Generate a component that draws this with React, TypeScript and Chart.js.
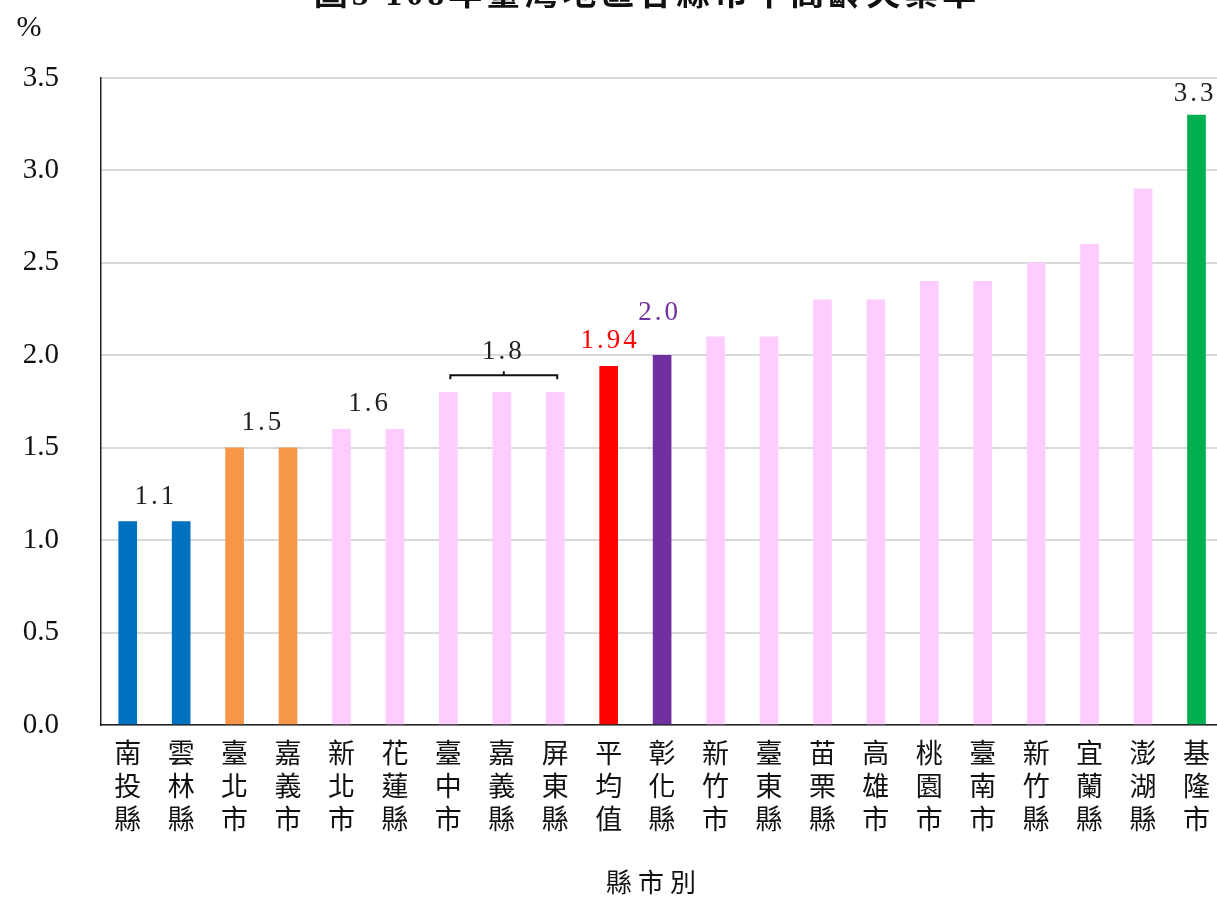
import { useEffect, useRef } from 'react';
import { Chart, registerables } from 'chart.js';

Chart.register(...registerables);

const chartTitle = '圖5 108年臺灣地區各縣市中高齡失業率';
const yUnit = '%';
const xTitle = '縣市別';

const categories = [
  '南投縣', '雲林縣', '臺北市', '嘉義市', '新北市', '花蓮縣', '臺中市',
  '嘉義縣', '屏東縣', '平均值', '彰化縣', '新竹市', '臺東縣', '苗栗縣',
  '高雄市', '桃園市', '臺南市', '新竹縣', '宜蘭縣', '澎湖縣', '基隆市',
];

const values = [
  1.1, 1.1, 1.5, 1.5, 1.6, 1.6, 1.8, 1.8, 1.8, 1.94, 2.0,
  2.1, 2.1, 2.3, 2.3, 2.4, 2.4, 2.5, 2.6, 2.9, 3.3,
];

const BLUE = '#0070C0';
const ORANGE = '#F79646';
const PINK = '#FFCCFF';
const RED = '#FF0000';
const PURPLE = '#7030A0';
const GREEN = '#00B050';

const barColors = [
  BLUE, BLUE, ORANGE, ORANGE, PINK, PINK, PINK, PINK, PINK, RED, PURPLE,
  PINK, PINK, PINK, PINK, PINK, PINK, PINK, PINK, PINK, GREEN,
];

const yMin = 0;
const yMax = 3.5;
const yStep = 0.5;

// value labels: first index, last index, text, colour, bracket
const labelFrom = [0, 2, 4, 6, 9, 10, 20];
const labelTo = [1, 3, 5, 8, 9, 10, 20];
const labelText = ['1.1', '1.5', '1.6', '1.8', '1.94', '2.0', '3.3'];
const labelColor = ['#222', '#222', '#222', '#222', RED, PURPLE, '#222'];
const labelBracket = [false, false, false, true, false, false, false];

const SERIF = '"Liberation Serif", "DejaVu Serif", "Noto Sans CJK TC", serif';

const overlayPlugin = {
  id: 'overlay',
  afterDraw(chart: any) {
    const ctx = chart.ctx;
    const xs = chart.scales.x;
    const ys = chart.scales.y;
    ctx.save();
    // title (top cut off)
    ctx.font = `bold 34px ${SERIF}`;
    ctx.fillStyle = '#111';
    ctx.textAlign = 'center';
    ctx.textBaseline = 'alphabetic';
    (ctx as any).letterSpacing = '4px';
    ctx.fillText(chartTitle, 647, 5);
    (ctx as any).letterSpacing = '0px';
    // unit
    ctx.font = `30px ${SERIF}`;
    ctx.textAlign = 'center';
    ctx.textBaseline = 'middle';
    ctx.fillText(yUnit, 29, 28);
    // x axis title
    ctx.font = `26px ${SERIF}`;
    (ctx as any).letterSpacing = '6px';
    ctx.fillText(xTitle, 654, 885);
    (ctx as any).letterSpacing = '0px';
    // value labels
    for (let i = 0; i < labelText.length; i++) {
      const x1 = xs.getPixelForValue(labelFrom[i]);
      const x2 = xs.getPixelForValue(labelTo[i]);
      const top = ys.getPixelForValue(values[labelFrom[i]]);
      let cx = (x1 + x2) / 2;
      let cy = top - 25;
      if (labelBracket[i]) {
        const by = top - 17;
        ctx.strokeStyle = '#111';
        ctx.lineWidth = 2;
        ctx.beginPath();
        ctx.moveTo(x1 + 2, by + 4);
        ctx.lineTo(x1 + 2, by);
        ctx.lineTo(x2 + 2, by);
        ctx.lineTo(x2 + 2, by + 4);
        ctx.moveTo(cx + 2, by);
        ctx.lineTo(cx + 2, by - 4);
        ctx.stroke();
        cy = top - 40;
      }
      if (labelText[i] === '2.0') {
        cy = top - 42;
        cx -= 4;
      }
      if (labelText[i] === '3.3') {
        cy = top - 21;
        cx -= 3;
      }
      ctx.font = `27px ${SERIF}`;
      ctx.fillStyle = labelColor[i];
      (ctx as any).letterSpacing = '3px';
      ctx.fillText(labelText[i], cx + 1.5, cy);
      (ctx as any).letterSpacing = '0px';
    }
    ctx.restore();
  },
};

export default function App() {
  const ref = useRef<HTMLCanvasElement>(null);
  useEffect(() => {
    if (!ref.current) return;
    const chart = new Chart(ref.current, {
      type: 'bar',
      data: {
        labels: categories.map((c) => c.split('')),
        datasets: [
          {
            data: values,
            backgroundColor: barColors,
            barThickness: 18,
          },
        ],
      },
      options: {
        responsive: false,
        animation: false,
        events: [],
        layout: { padding: { top: 78, left: 0, right: 0, bottom: 0 } },
        plugins: {
          legend: { display: false },
          title: { display: false },
          tooltip: { enabled: false },
        },
        scales: {
          x: {
            grid: { display: false, drawTicks: false },
            border: { display: true, color: '#222', width: 1.5 },
            ticks: {
              autoSkip: false,
              maxRotation: 0,
              minRotation: 0,
              padding: 14,
              color: '#111',
              font: { family: SERIF, size: 27, lineHeight: '33px' as any },
            },
            afterFit(scale: any) {
              scale.height = 179;
            },
          },
          y: {
            min: yMin,
            max: yMax,
            grid: { color: '#D9D9D9', lineWidth: 2, drawTicks: false },
            border: { display: true, color: '#222', width: 1.5 },
            ticks: {
              stepSize: yStep,
              padding: 42,
              color: '#111',
              font: { family: SERIF, size: 29 },
              callback: (v: any) => Number(v).toFixed(1),
            },
            afterFit(scale: any) {
              scale.width = 101;
            },
          },
        },
      },
      plugins: [overlayPlugin],
    });
    return () => chart.destroy();
  }, []);
  return (
    <div
      style={{
        position: 'fixed',
        left: 0,
        top: 0,
        width: 1217,
        height: 904,
        overflow: 'hidden',
        background: '#fff',
      }}
    >
      <canvas ref={ref} width={1224} height={904} style={{ display: 'block' }} />
    </div>
  );
}
